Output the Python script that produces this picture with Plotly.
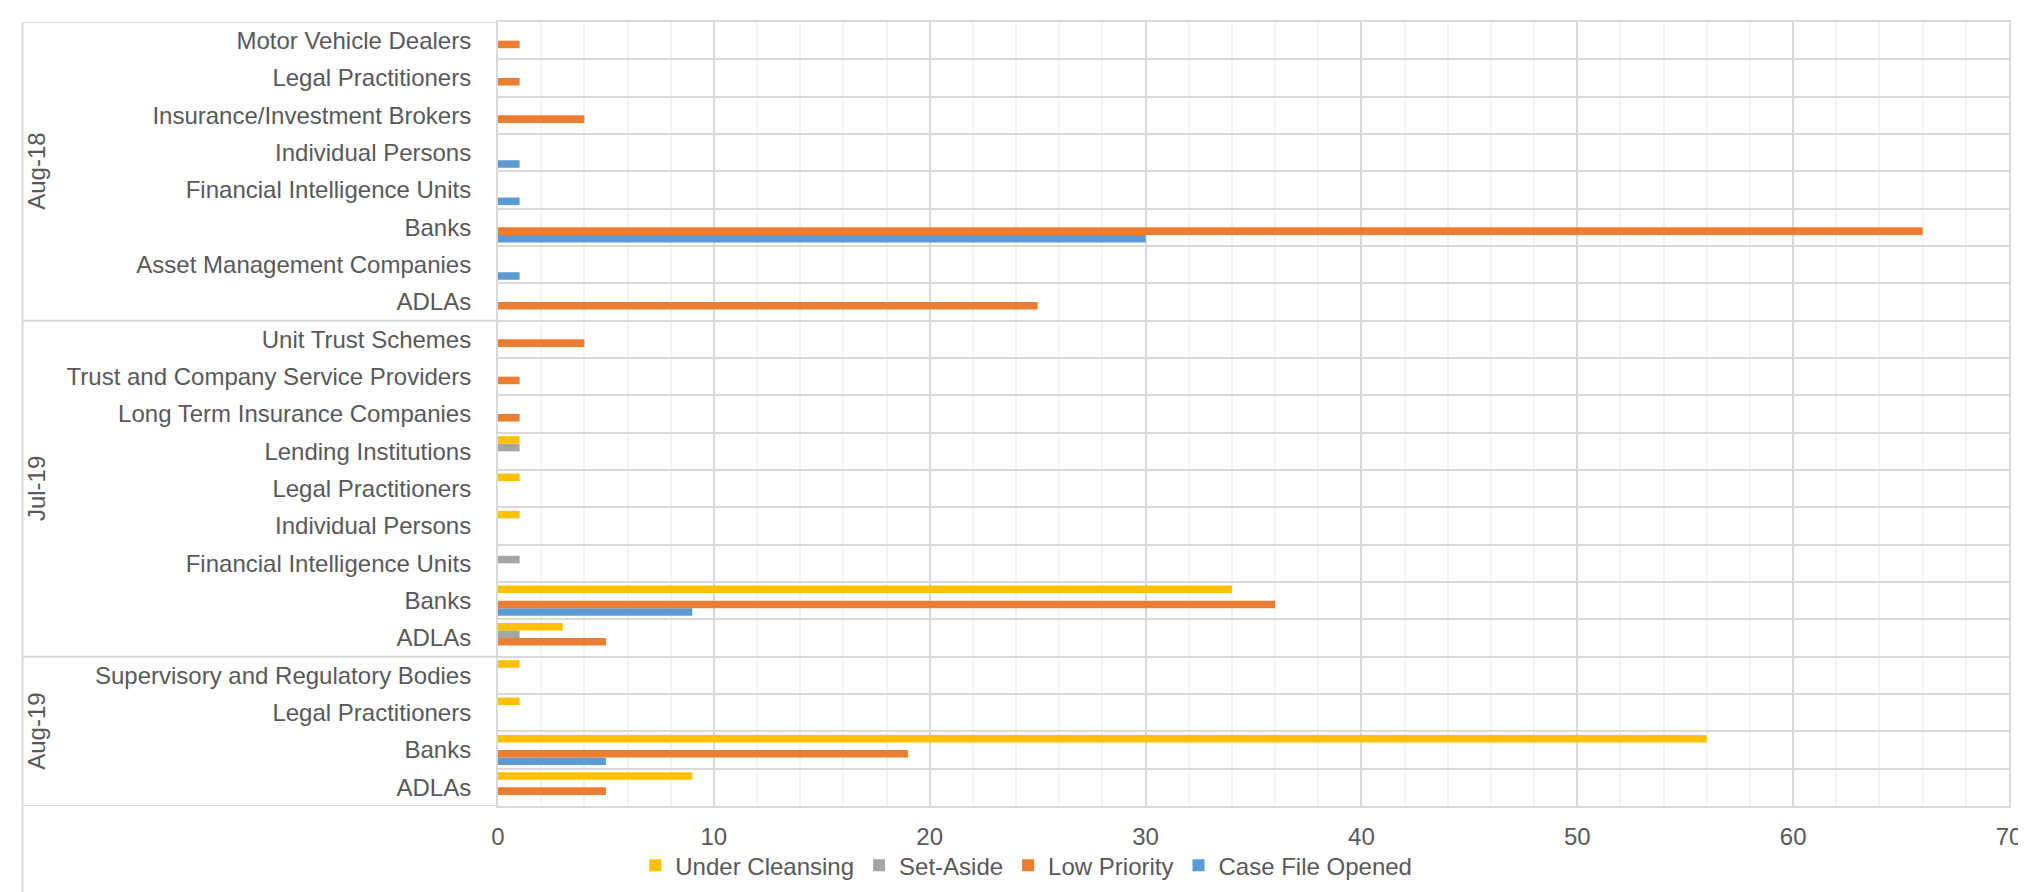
import plotly.graph_objects as go

# ---------------- data ----------------
groups = ["Aug-18", "Jul-19", "Aug-19"]

aug18_categories = ["Motor Vehicle Dealers", "Legal Practitioners", "Insurance/Investment Brokers",
                    "Individual Persons", "Financial Intelligence Units", "Banks",
                    "Asset Management Companies", "ADLAs"]
aug18_under_cleansing = [0, 0, 0, 0, 0, 0, 0, 0]
aug18_set_aside = [0, 0, 0, 0, 0, 0, 0, 0]
aug18_low_priority = [1, 1, 4, 0, 0, 66, 0, 25]
aug18_case_file_opened = [0, 0, 0, 1, 1, 30, 1, 0]

jul19_categories = ["Unit Trust Schemes", "Trust and Company Service Providers",
                    "Long Term Insurance Companies", "Lending Institutions", "Legal Practitioners",
                    "Individual Persons", "Financial Intelligence Units", "Banks", "ADLAs"]
jul19_under_cleansing = [0, 0, 0, 1, 1, 1, 0, 34, 3]
jul19_set_aside = [0, 0, 0, 1, 0, 0, 1, 0, 1]
jul19_low_priority = [4, 1, 1, 0, 0, 0, 0, 36, 5]
jul19_case_file_opened = [0, 0, 0, 0, 0, 0, 0, 9, 0]

aug19_categories = ["Supervisory and Regulatory Bodies", "Legal Practitioners", "Banks", "ADLAs"]
aug19_under_cleansing = [1, 1, 56, 9]
aug19_set_aside = [0, 0, 0, 0]
aug19_low_priority = [0, 0, 19, 5]
aug19_case_file_opened = [0, 0, 5, 0]

series_names = ["Under Cleansing", "Set-Aside", "Low Priority", "Case File Opened"]
series_colors = ["#FFC000", "#A5A5A5", "#ED7D31", "#5B9BD5"]

x_ticks = [0, 10, 20, 30, 40, 50, 60, 70]

# ---------------- assemble (top to bottom) ----------------
group_cats = [aug18_categories, jul19_categories, aug19_categories]
group_vals = {
    "Under Cleansing": [aug18_under_cleansing, jul19_under_cleansing, aug19_under_cleansing],
    "Set-Aside": [aug18_set_aside, jul19_set_aside, aug19_set_aside],
    "Low Priority": [aug18_low_priority, jul19_low_priority, aug19_low_priority],
    "Case File Opened": [aug18_case_file_opened, jul19_case_file_opened, aug19_case_file_opened],
}

labels = [c for cats in group_cats for c in cats]
n = len(labels)
ypos = [n - 1 - i for i in range(n)]

FONT = "Liberation Sans, Arial, sans-serif"
TXT = "#595959"
GRID = "#D9D9D9"

fig = go.Figure()
# plotly stacks grouped horizontal bars bottom-up, so add in reverse order
for name, color in reversed(list(zip(series_names, series_colors))):
    vals = [v for gv in group_vals[name] for v in gv]
    fig.add_trace(go.Bar(
        y=ypos, x=[v if v else None for v in vals], name=name, orientation="h",
        marker=dict(color=color, line=dict(width=0)),
    ))

# group boundaries
bounds = []
start = 0
group_centers = []
for cats in group_cats:
    top = n - 1 - start + 0.5
    bottom = n - 1 - (start + len(cats) - 1) - 0.5
    bounds.append(top)
    group_centers.append((top + bottom) / 2)
    start += len(cats)
bounds.append(-0.5)

row_bounds = [i + 0.5 for i in range(-1, n)]

W, H = 2026, 892
ML, MR, MT, MB = 490, 17, 13, 90
pw = W - ML - MR
ph = H - MT - MB
left_px = 12
xl = (left_px - ML) / pw

shapes = []
for b in bounds:
    shapes.append(dict(type="line", xref="paper", yref="y", x0=xl, x1=0, y0=b, y1=b,
                       line=dict(color=GRID, width=2)))
shapes.append(dict(type="line", xref="paper", yref="paper", x0=xl, x1=xl, y0=1, y1=-MB / ph,
                   line=dict(color=GRID, width=2)))

annotations = []
for g, c in zip(groups, group_centers):
    annotations.append(dict(text=g, xref="paper", yref="y", x=(26 - ML) / pw, y=c,
                            showarrow=False, textangle=-90, xanchor="center", yanchor="middle",
                            font=dict(family=FONT, size=24, color=TXT)))

fig.update_layout(
    width=W, height=H,
    margin=dict(l=ML, r=MR, t=MT, b=MB),
    paper_bgcolor="white", plot_bgcolor="white",
    barmode="group", bargap=0.19, bargroupgap=0,
    font=dict(family=FONT, size=24, color=TXT),
    showlegend=True,
    legend=dict(orientation="h", traceorder="reversed", x=(628 - ML) / pw, xanchor="left",
                y=-(862 - MT - ph) / ph, yanchor="middle",
                font=dict(family=FONT, size=24, color=TXT), bgcolor="rgba(0,0,0,0)"),
    shapes=shapes, annotations=annotations,
)
fig.update_xaxes(range=[0, 70], tickvals=x_ticks, ticks="", showgrid=True, gridcolor=GRID, gridwidth=2,
                 minor=dict(dtick=2, showgrid=True, gridcolor="#F2F2F2", gridwidth=1.5),
                 zeroline=False, showline=True, linecolor=GRID, linewidth=2, mirror=True,
                 tickfont=dict(family=FONT, size=24, color=TXT), ticklabelstandoff=8, fixedrange=True)
fig.update_yaxes(range=[-0.5, n - 0.5], tickmode="array", tickvals=ypos, ticktext=labels, ticks="",
                 showgrid=False, zeroline=False,
                 minor=dict(tickmode="array", tickvals=row_bounds, showgrid=True, gridcolor=GRID, gridwidth=2, ticks=""),
                 showline=True, linecolor=GRID, linewidth=2, mirror=True,
                 tickfont=dict(family=FONT, size=24, color=TXT), ticklabelstandoff=20, fixedrange=True)

fig.write_html("out.html")
